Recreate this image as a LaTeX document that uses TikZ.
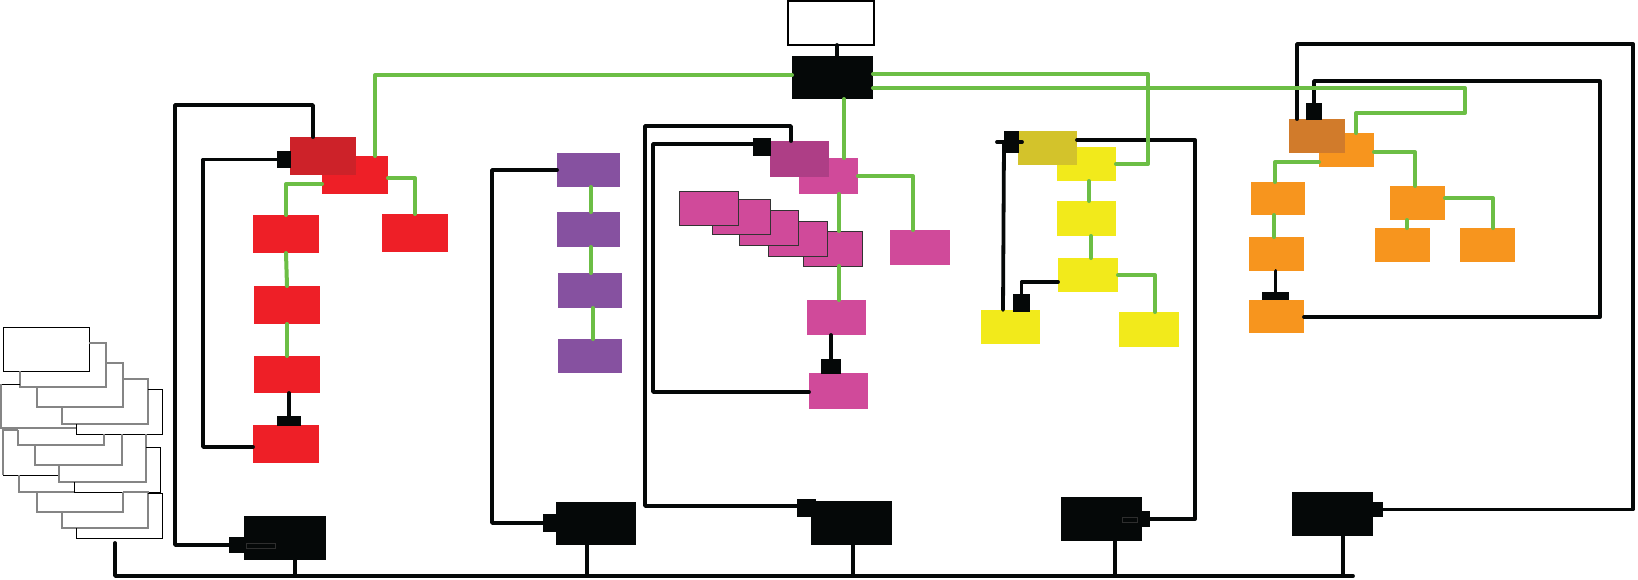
\documentclass[tikz,border=0pt]{standalone}
\usetikzlibrary{calc}
\definecolor{gr}{HTML}{6CBE45}
\definecolor{rd}{HTML}{EE1F27}
\definecolor{drd}{HTML}{CD2229}
\definecolor{pu}{HTML}{8651A0}
\definecolor{pk}{HTML}{D04A9A}
\definecolor{dpk}{HTML}{AE3E86}
\definecolor{ye}{HTML}{F2EA1B}
\definecolor{dye}{HTML}{D3C32B}
\definecolor{orn}{HTML}{F7951E}
\definecolor{dor}{HTML}{D17B2B}
\definecolor{bk}{HTML}{050808}
\definecolor{stg}{HTML}{858585}
\newcommand\bx[6]{\node[box,#6,minimum width={(#4-#2)*1pt},minimum height={(#5-#3)*1pt},anchor=north west] (#1) at (#2,#3) {};}
\begin{document}
\begin{tikzpicture}[x=1pt,y=-1pt,
  box/.style={inner sep=0pt,outer sep=0pt,draw=none},
  stack/.style={fill=pk,draw=black!80,line width=1pt},
  bline/.style={draw=bk,line width=3.8pt,line cap=round,line join=round},
  gline/.style={draw=gr,line width=4pt,line cap=round,line join=round},
  stk/.style={draw=stg,line width=1.3pt},
  stkb/.style={draw=black,line width=1pt}]
\useasboundingbox (0,0) rectangle (1638,579);
\fill[white] (0,0) rectangle (1638,579);

% ---------- left stack of white sheets ----------
\draw[stkb] (3,327) rectangle (89,371);
\draw[stk] (89,343) -- (106,343) -- (106,387) -- (20,387) -- (20,371);
\draw[stk] (106,363) -- (123,363) -- (123,407) -- (37,407) -- (37,387);
\draw[stk] (123,379) -- (148,379) -- (148,424) -- (62,424) -- (62,407);
\draw[stkb] (148,389) -- (162,389) -- (162,434) -- (76,434) -- (76,424);
\draw[stkb] (20,384) -- (1,384);
\draw[stk] (1,384) -- (1,428) -- (76,428);
\draw[stk] (18,430) -- (3,430) -- (3,475);
\draw[stkb] (3,475) -- (59,475);
\draw[stk] (18,430) -- (18,445) -- (104,445) -- (104,434);
\draw[stk] (35,445) -- (35,465) -- (122,465) -- (122,434);
\draw[stk] (146,434) -- (146,482) -- (59,482) -- (59,465);
\draw[stkb] (146,447) -- (160,447) -- (160,492) -- (74,492) -- (74,482);
\draw[stk] (19,475) -- (19,492) -- (74,492);
\draw[stk] (37,492) -- (37,512) -- (123,512) -- (123,492);
\draw[stk] (123,492) -- (148,492) -- (148,528) -- (62,528) -- (62,512);
\draw[stkb] (148,493) -- (162,493) -- (162,538) -- (76,538) -- (76,528);

% ---------- red ----------
\bx{R0}{322}{156}{388}{194}{fill=rd}
\bx{DR}{290}{137}{356}{175}{fill=drd}
\bx{Rsq}{277}{151}{291}{168}{fill=bk}
\bx{Rr}{382}{214}{448}{252}{fill=rd}
\bx{R1}{253}{215}{319}{253}{fill=rd}
\bx{R2}{254}{286}{320}{324}{fill=rd}
\bx{R3}{254}{356}{320}{393}{fill=rd}
\bx{R4}{253}{425}{319}{463}{fill=rd}
\bx{Rbar}{277}{416}{301}{426}{fill=bk}
% ---------- purple ----------
\bx{P1}{557}{153}{620}{187}{fill=pu}
\bx{P2}{557}{212}{620}{247}{fill=pu}
\bx{P3}{558}{273}{622}{308}{fill=pu}
\bx{P4}{558}{339}{622}{373}{fill=pu}
% ---------- hub ----------
\bx{W}{788}{1}{874}{45}{fill=white,draw=black,line width=1.2pt}
\bx{H}{792}{56}{873}{99}{fill=bk}
% ---------- pink ----------
\bx{PK0}{799}{158}{858}{194}{fill=pk}
\bx{DP}{770}{141}{829}{177}{fill=dpk}
\bx{Psq}{753}{138}{771}{156}{fill=bk}
\bx{PKr}{890}{230}{950}{265}{fill=pk}
\bx{S5}{803}{231}{862}{266}{stack}
\bx{S4}{768}{221}{827}{256}{stack}
\bx{S3}{739}{210}{798}{245}{stack}
\bx{S2}{712}{199}{770}{234}{stack}
\bx{S1}{679}{191}{738}{225}{stack}
\bx{PK2}{807}{300}{866}{335}{fill=pk}
\bx{PK3}{809}{373}{868}{409}{fill=pk}
\bx{Psq2}{821}{359}{841}{374}{fill=bk}
% ---------- yellow ----------
\bx{Y0}{1057}{147}{1116}{181}{fill=ye}
\bx{DY}{1018}{131}{1077}{165}{fill=dye}
\bx{Ysq}{1004}{131}{1019}{153}{fill=bk}
\bx{Y1}{1057}{201}{1116}{236}{fill=ye}
\bx{Y2}{1058}{258}{1118}{292}{fill=ye}
\bx{Yr}{1119}{312}{1179}{347}{fill=ye}
\bx{Yl}{981}{310}{1040}{344}{fill=ye}
\bx{Ysq2}{1013}{294}{1030}{312}{fill=bk}
% ---------- orange ----------
\bx{O0}{1319}{133}{1374}{167}{fill=orn}
\bx{DO}{1289}{119}{1345}{153}{fill=dor}
\bx{Osq}{1306}{103}{1322}{120}{fill=bk}
\bx{Ol1}{1251}{182}{1305}{215}{fill=orn}
\bx{Ol2}{1249}{237}{1304}{271}{fill=orn}
\bx{Ol3}{1249}{300}{1304}{333}{fill=orn}
\bx{Obar}{1262}{292}{1289}{300}{fill=bk}
\bx{Om}{1390}{186}{1445}{220}{fill=orn}
\bx{Oml}{1375}{228}{1430}{262}{fill=orn}
\bx{Omr}{1460}{228}{1515}{262}{fill=orn}
% ---------- bottom black boxes ----------
\bx{B1}{244}{516}{326}{560}{fill=bk}
\bx{B1s}{229}{537}{244}{553}{fill=bk}
\bx{B2}{556}{502}{636}{545}{fill=bk}
\bx{B2s}{543}{514}{556}{532}{fill=bk}
\bx{B3}{811}{501}{892}{545}{fill=bk}
\bx{B3s}{797}{499}{816}{517}{fill=bk}
\bx{B4}{1061}{497}{1142}{541}{fill=bk}
\bx{B4s}{1142}{511}{1150}{527}{fill=bk}
\bx{B5}{1292}{492}{1373}{536}{fill=bk}
\bx{B5s}{1373}{502}{1383}{517}{fill=bk}
\draw[black!82,line width=0.5pt] (246,543) rectangle (275,548);
\draw[black!82,line width=0.5pt] (1122,517) rectangle (1137,522);

% ---------- black connectors ----------
\draw[bline] (DR.north -| 313,0) -- (313,105) -- (175,105) |- (B1s.west);
\draw[bline] (Rsq.west) -| (203,447) -- (R4.west |- 0,447);
\draw[bline] (Rbar.north |- R3.south) -- (Rbar.north);
\draw[bline] (P1.west) -- (492,170) |- (B2s.west);
\draw[bline] (W.south -| 837,0) -- (H.north -| 837,0);
\draw[bline] (DP.north -| 791,0) -- (791,126) -- (645,126) |- (B3s.west |- 0,506);
\draw[bline] (Psq.west |- 0,144) -- (653,144) |- (PK3.west |- 0,392);
\draw[bline] (Psq2.north |- PK2.south) -- (Psq2.north);
\draw[bline] (DY.east |- 0,140) -- (1195,140) |- (B4s.east);
\draw[bline] (Y2.west |- 0,282) -| (Ysq2.north);
\draw[bline] (Yl.north -| 1003,0) -- (Ysq.west |- 0,143);
\draw[bline] ([xshift=-7pt]Ysq.west) -- ([xshift=3pt]Ysq.east);
\draw[bline] (DO.north -| 1297,0) -- (1297,44) -- (1633,44) |- (B5s.east);
\draw[bline] (Osq.north) -- (1314,81) -- (1600,81) |- (Ol3.east |- 0,317);
\draw[bline] (Obar.north |- Ol2.south) -- (Obar.north);
\coordinate (busL) at (115,543);
\coordinate (busR) at (1353,576);
\draw[bline] (busL) |- (busR);
\foreach \b/\x in {B1/295,B2/587,B3/853,B4/1115,B5/1343}
  \draw[bline] (\b.south -| \x,0) -- (\x,0 |- busR);

% ---------- green connectors ----------
\draw[gline] (R0.north -| 375,0) |- (H.west |- 0,75);
\draw[gline] (R0.west |- 0,184) -| (R1.north);
\draw[gline] (R0.east |- 0,178) -| (Rr.north);
\draw[gline] (R1.south) -- (R2.north);
\draw[gline] (R2.south) -- (R3.north);
\draw[gline] (P1.south -| 591,0) -- (P2.north -| 591,0);
\draw[gline] (P2.south -| 591,0) -- (P3.north -| 591,0);
\draw[gline] (P3.south -| 593,0) -- (P4.north -| 593,0);
\draw[gline] (H.south -| 844,0) -- (PK0.north -| 844,0);
\draw[gline] (PK0.east) -| ([xshift=-7pt]PKr.north);
\draw[gline] (PK0.south -| 839,0) -- (S5.north -| 839,0);
\draw[gline] (S5.south -| 839,0) -- (PK2.north -| 839,0);
\draw[gline] (H.east |- 0,74) -- (1148,74) |- (Y0.east);
\draw[gline] (Y0.south -| 1089,0) -- (Y1.north -| 1089,0);
\draw[gline] (Y1.south -| 1091,0) -- (Y2.north -| 1091,0);
\draw[gline] (Y2.east) -| (Yr.north -| 1155,0);
\draw[gline] (H.east |- 0,88) -- (1465,88) -- (1465,113) -- (1356,113) -- (O0.north -| 1356,0);
\draw[gline] (O0.west |- 0,162) -| (Ol1.north -| 1275,0);
\draw[gline] (Ol1.south -| 1274,0) -- (Ol2.north -| 1274,0);
\draw[gline] (O0.east |- 0,152) -| (Om.north -| 1415,0);
\draw[gline] (Om.south -| 1407,0) -- (Oml.north -| 1407,0);
\draw[gline] (Om.east |- 0,198) -| (Omr.north -| 1493,0);
\end{tikzpicture}
\end{document}
